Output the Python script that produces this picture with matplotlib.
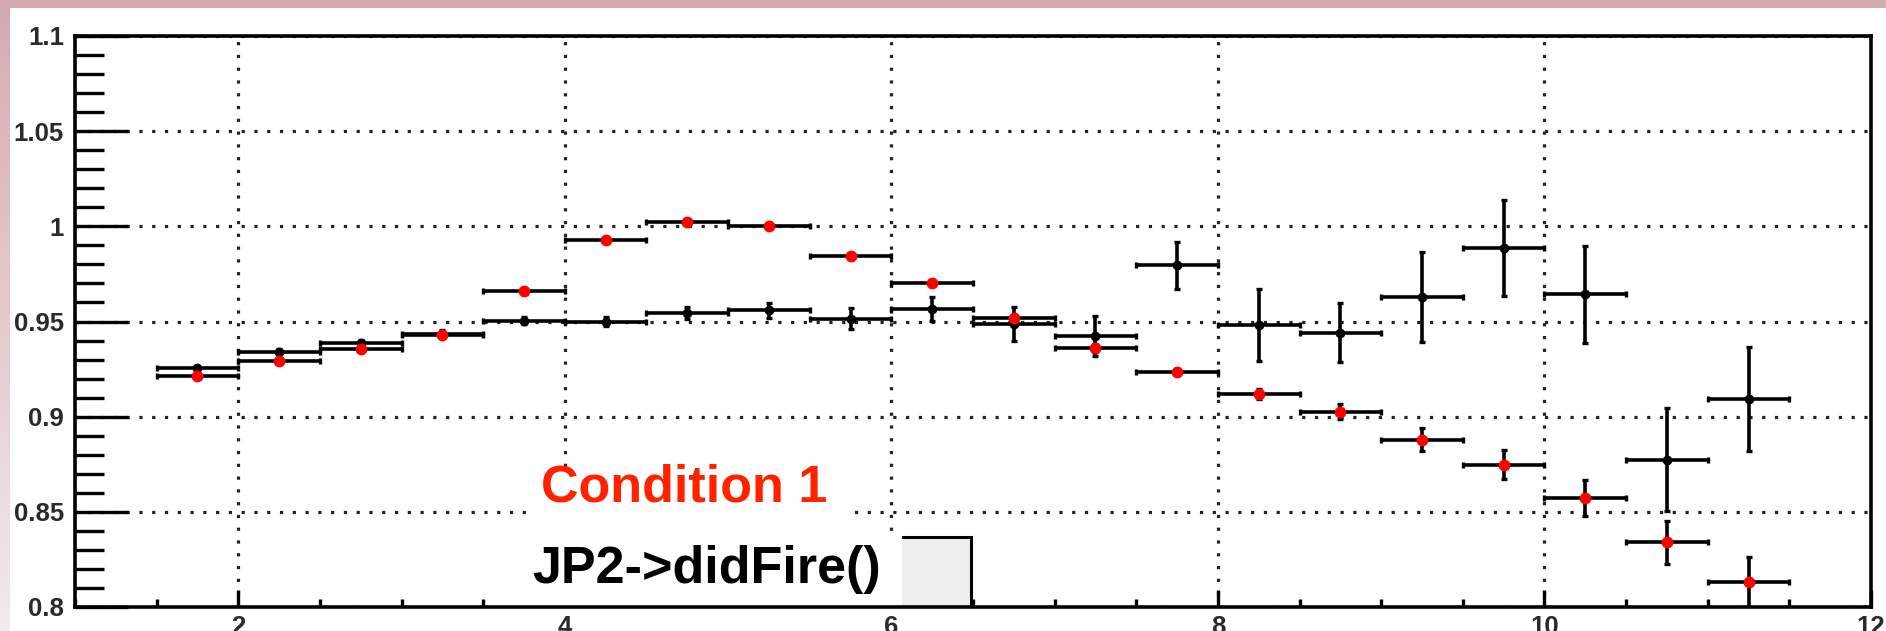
import numpy as np
import matplotlib
matplotlib.use("Agg")
import matplotlib.pyplot as plt
from matplotlib.ticker import MultipleLocator, FuncFormatter
from matplotlib.patches import Rectangle

# ---- data -------------------------------------------------------------
bin_centers = [1.75, 2.25, 2.75, 3.25, 3.75, 4.25, 4.75, 5.25, 5.75, 6.25,
               6.75, 7.25, 7.75, 8.25, 8.75, 9.25, 9.75, 10.25, 10.75, 11.25]
bin_half_width = 0.25

ratio_jp2 = [0.9255, 0.9340, 0.9386, 0.9435, 0.9505, 0.9500, 0.9544, 0.9558,
             0.9515, 0.9565, 0.9485, 0.9426, 0.9795, 0.9483, 0.9442, 0.9628,
             0.9886, 0.9644, 0.8774, 0.9093]
err_jp2 = [0.0012, 0.0013, 0.0015, 0.0018, 0.0020, 0.0025, 0.0030, 0.0040,
           0.0055, 0.0065, 0.0090, 0.0105, 0.0125, 0.0190, 0.0155, 0.0235,
           0.0252, 0.0255, 0.0270, 0.0275]

ratio_cond1 = [0.9213, 0.9290, 0.9358, 0.9430, 0.9661, 0.9930, 1.0023, 1.0000,
               0.9842, 0.9702, 0.9520, 0.9360, 0.9237, 0.9120, 0.9026, 0.8878,
               0.8748, 0.8573, 0.8339, 0.8130]
err_cond1 = [0.0008, 0.0008, 0.0008, 0.0008, 0.0008, 0.0008, 0.0008, 0.0008,
             0.0010, 0.0012, 0.0015, 0.0020, 0.0015, 0.0025, 0.0040, 0.0060,
             0.0078, 0.0093, 0.0113, 0.0135]

x_range = (1, 12)
y_range = (0.8, 1.1)

legend_title = "Condition 1"
legend_entry = "JP2->didFire()"

# ---- figure -----------------------------------------------------------
W, H = 1886, 631
fig = plt.figure(figsize=(W / 100, H / 100), dpi=100)
fig.patch.set_facecolor("white")

# slide frame: pink band on top, fading strip on the left
bg = fig.add_axes([0, 0, 1, 1], zorder=-10)
bg.set_axis_off()
bg.set_xlim(0, W)
bg.set_ylim(H, 0)
top_col = np.array([213, 170, 178]) / 255
bot_col = np.array([243, 234, 236]) / 255
t = np.linspace(0, 1, 256)[:, None]
grad = (top_col[None, :] * (1 - t) + bot_col[None, :] * t)[:, None, :]
bg.imshow(grad, extent=[0, 10, H, 0], aspect="auto", interpolation="bilinear")
bg.add_patch(Rectangle((0, 0), W, 7.5, color=top_col, lw=0))

ax = fig.add_axes([75 / W, 1 - 607 / H, (1871 - 75) / W, (607 - 36) / H])
ax.set_xlim(*x_range)
ax.set_ylim(*y_range)

# grid
ax.grid(True, which="major", color="#222222", linestyle=(0, (1, 3)), linewidth=2.3)

# ticks
ax.xaxis.set_major_locator(MultipleLocator(2))
ax.xaxis.set_minor_locator(MultipleLocator(0.5))
ax.yaxis.set_major_locator(MultipleLocator(0.05))
ax.yaxis.set_minor_locator(MultipleLocator(0.01))
ax.yaxis.set_major_formatter(FuncFormatter(lambda v, p: f"{round(v, 4):g}"))
ax.xaxis.set_major_formatter(FuncFormatter(lambda v, p: f"{round(v, 4):g}"))

ax.tick_params(axis="y", which="major", direction="in", length=38, width=2.4,
               left=True, right=False, labelsize=18.5, pad=8, labelcolor="#2a2a2a")
ax.tick_params(axis="y", which="minor", direction="in", length=21, width=2.4,
               left=True, right=False)
ax.tick_params(axis="x", which="major", direction="in", length=12, width=2.4,
               bottom=True, top=False, labelsize=18.5, pad=6, labelcolor="#2a2a2a")
ax.tick_params(axis="x", which="minor", direction="in", length=6, width=2.4,
               bottom=True, top=False)
for lab in ax.get_xticklabels() + ax.get_yticklabels():
    lab.set_fontfamily("Liberation Sans")
    lab.set_fontweight("bold")

for sp in ax.spines.values():
    sp.set_linewidth(2.6)
    sp.set_color("black")

# data points
ax.errorbar(bin_centers, ratio_jp2, xerr=bin_half_width, yerr=err_jp2,
            fmt="o", color="black", ms=6.0, elinewidth=2.6, capsize=2,
            capthick=2.4, zorder=2)
ax.errorbar(bin_centers, ratio_cond1, xerr=bin_half_width, yerr=err_cond1,
            fmt="o", mfc="red", mec="red", ecolor="black", ms=7.5,
            elinewidth=2.6, capsize=2, capthick=2.4, zorder=2.05)

# legend box with overlaid labels
ax.add_patch(Rectangle((4.5, 0.8), 6.49 - 4.5, 0.8368 - 0.8,
                       facecolor="#eeeeee", edgecolor="black", lw=2.2, zorder=2.2))
ax.add_patch(Rectangle((3.725, 0.8), 6.064 - 3.725, 0.8385 - 0.8,
                       facecolor="white", edgecolor="none", zorder=2.3))
ax.add_patch(Rectangle((3.79, 0.8380), 5.73 - 3.79, 0.8715 - 0.8380,
                       facecolor="white", edgecolor="none", zorder=2.3))

ax.text(3.855, 0.8552, legend_title, color="#ff2200", fontsize=37.5,
        fontweight="bold", family="Liberation Sans", va="baseline", ha="left",
        zorder=3)
ax.text(3.80, 0.8126, legend_entry, color="black", fontsize=37.5,
        fontweight="bold", family="Liberation Sans", va="baseline", ha="left",
        zorder=3)

fig.savefig("out.png", dpi=100)
